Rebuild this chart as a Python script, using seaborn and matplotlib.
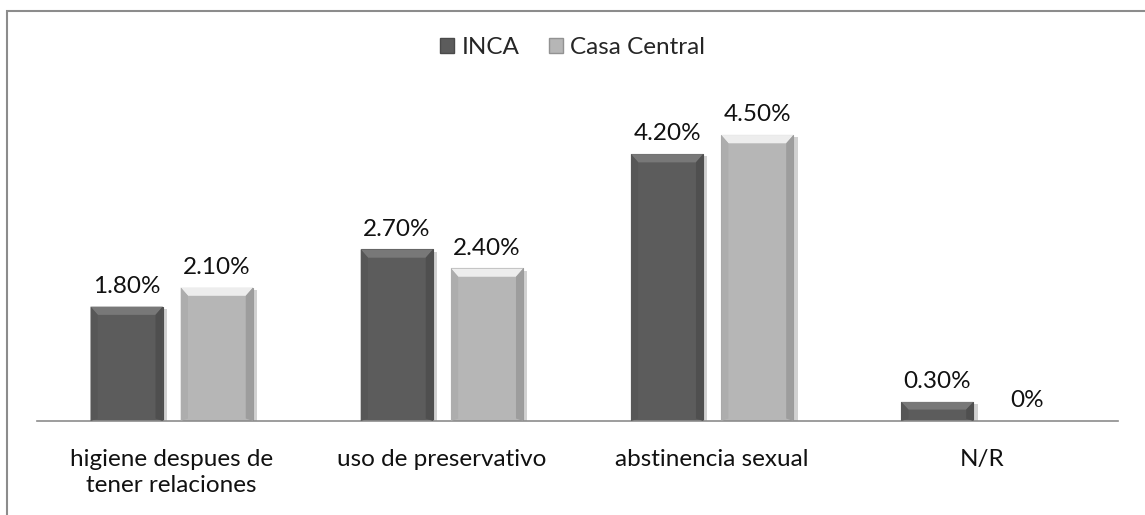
import matplotlib
matplotlib.use("Agg")
import matplotlib.pyplot as plt
import matplotlib.patheffects as pe
from matplotlib.patches import Polygon, Rectangle
import pandas as pd
import seaborn as sns

# data
categories = ["higiene despues de\ntener relaciones", "uso de preservativo",
              "abstinencia sexual", "N/R"]
inca = [1.8, 2.7, 4.2, 0.3]
casa_central = [2.1, 2.4, 4.5, 0.0]
series_names = ["INCA", "Casa Central"]
colors = ["#5c5c5c", "#b6b6b6"]

df = pd.DataFrame({
    "categoria": categories * 2,
    "serie": [series_names[0]] * 4 + [series_names[1]] * 4,
    "valor": inca + casa_central,
})

sns.set_style("white")
plt.rcParams["font.family"] = ["Lato", "DejaVu Sans"]
FS = 17.5

fig = plt.figure(figsize=(11.45, 5.15), dpi=100)
ax = fig.add_axes([0.032, 0.1825, 0.944, 0.617])

sns.barplot(data=df, x="categoria", y="valor", hue="serie", palette=colors,
            width=0.668, gap=0.2, saturation=1, ax=ax, legend=False)

ax.set_ylim(0, 5)
ax.set_xlim(-0.5, 3.5)


def shade(c, f):
    return tuple(min(1, max(0, v * f)) for v in matplotlib.colors.to_rgb(c))


# bevel look + soft shadow for each bar
for cont, col in zip(ax.containers, colors):
    for patch, val in zip(cont.patches, cont.datavalues):
        if val <= 0:
            patch.set_visible(False)
            continue
        patch.set_edgecolor(shade(col, 0.85))
        patch.set_linewidth(0.8)
        patch.set_path_effects([
            pe.SimplePatchShadow(offset=(3, -1.5), shadow_rgbFace="#000000", alpha=0.18),
            pe.Normal()])
        x0, w = patch.get_x(), patch.get_width()
        y1 = patch.get_height()
        bx = w * 0.1
        by = min(0.13, y1 / 2.5)
        x1 = x0 + w
        top = Polygon([(x0, y1), (x1, y1), (x1 - bx, y1 - by), (x0 + bx, y1 - by)],
                      closed=True, facecolor=shade(col, 1.3), edgecolor="none", zorder=3)
        left = Polygon([(x0, 0), (x0, y1), (x0 + bx, y1 - by), (x0 + bx, by * 0.3)],
                       closed=True, facecolor=shade(col, 0.95), edgecolor="none", zorder=3)
        right = Polygon([(x1, 0), (x1, y1), (x1 - bx, y1 - by), (x1 - bx, by * 0.3)],
                        closed=True, facecolor=shade(col, 0.86), edgecolor="none", zorder=3)
        ax.add_patch(top)
        ax.add_patch(left)
        ax.add_patch(right)

# data labels
for cont in ax.containers:
    for patch, val in zip(cont.patches, cont.datavalues):
        txt = "0%" if val == 0 else f"{val:.2f}%"
        ax.annotate(txt, (patch.get_x() + patch.get_width() / 2, val),
                    xytext=(0, 7), textcoords="offset points",
                    ha="center", va="bottom", fontsize=FS, color="#111111")

ax.set_xlabel("")
ax.set_ylabel("")
ax.set_yticks([])
ax.tick_params(axis="x", length=0, labelsize=FS, pad=20, colors="#111111")
for lab in ax.get_xticklabels():
    lab.set_linespacing(1.3)
for s in ["top", "right", "left"]:
    ax.spines[s].set_visible(False)
ax.spines["bottom"].set_color("#8c8c8c")
ax.spines["bottom"].set_linewidth(1.2)

handles = [Rectangle((0, 0), 1, 1, facecolor=c, edgecolor=shade(c, 0.8)) for c in colors]
fig.legend(handles, series_names, loc="center", bbox_to_anchor=(0.5, 0.908), ncol=2,
           frameon=False, fontsize=FS, handlelength=0.6, handleheight=0.6,
           handletextpad=0.3, columnspacing=1.2)

# outer chart border (left and top visible, rest cropped)
fig.patches.append(Rectangle((7 / 1145, -0.05), 1.1, 1 - 11 / 515 + 0.05,
                             transform=fig.transFigure, fill=False,
                             edgecolor="#8c8c8c", linewidth=1.5))

fig.savefig("out.png", dpi=100, facecolor="white")
